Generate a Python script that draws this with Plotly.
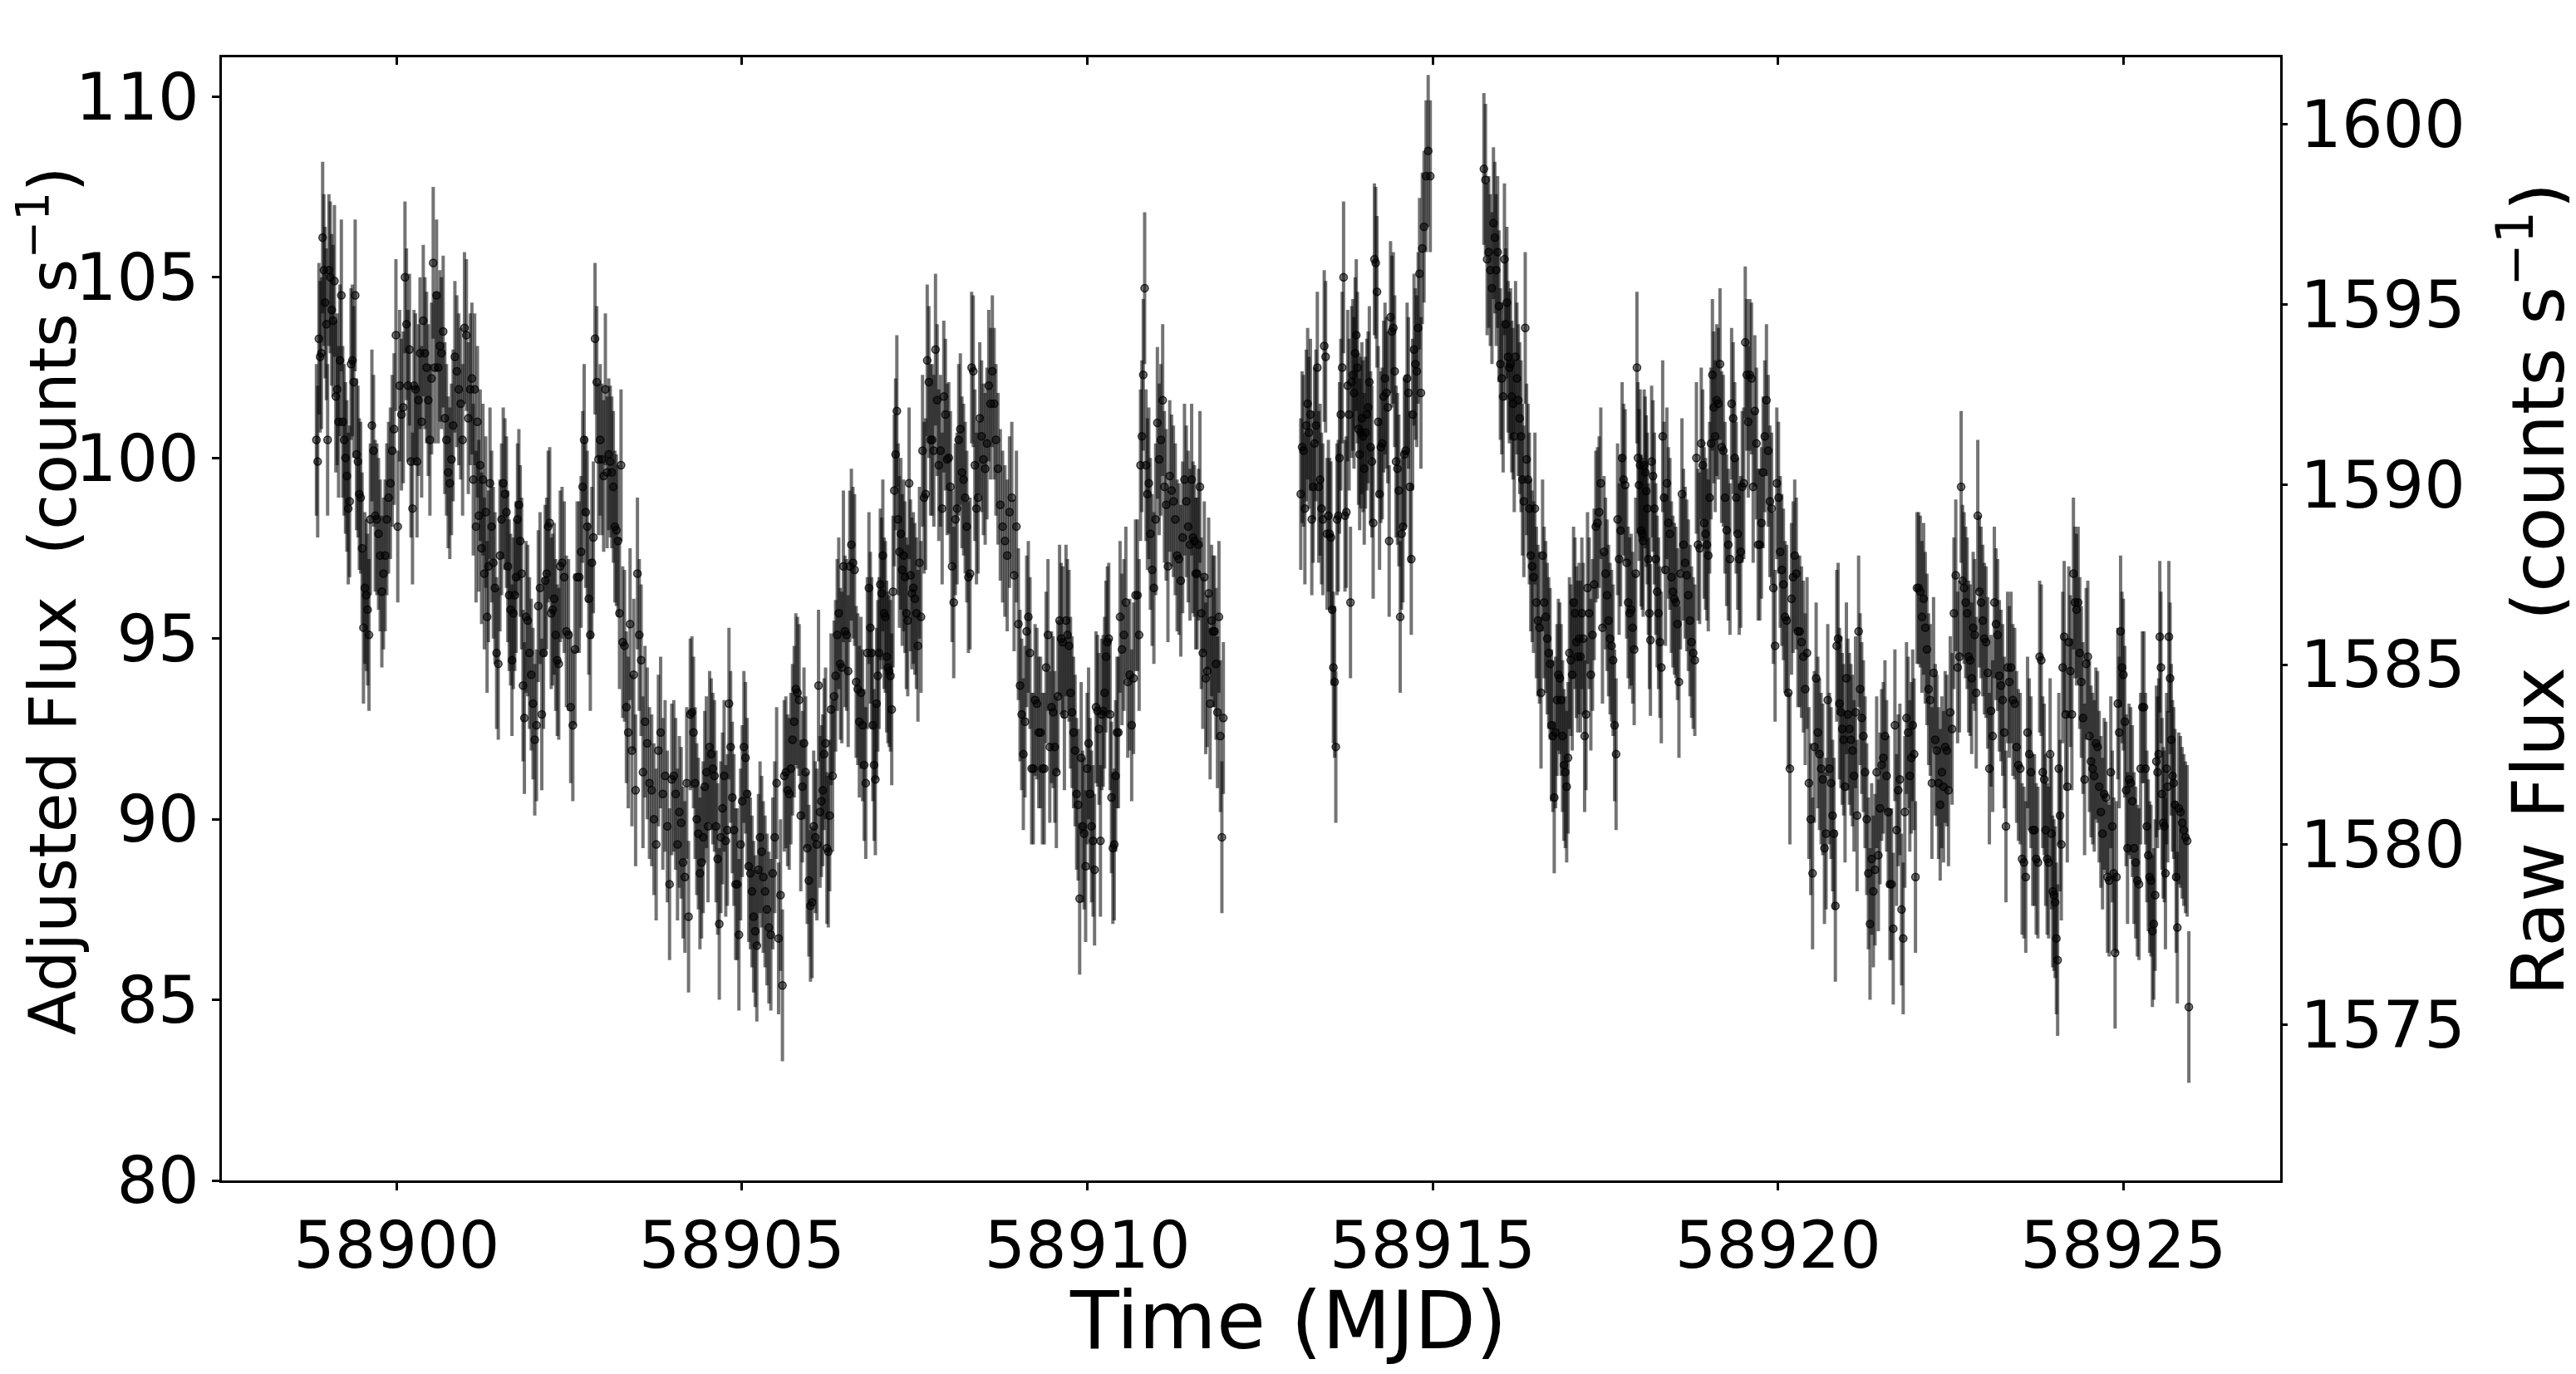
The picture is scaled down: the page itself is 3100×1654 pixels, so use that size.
import plotly.graph_objects as go

# ---------------- data ----------------
# Each row: flux values observed between ROW_T0[i] and ROW_T1[i] (MJD)
ROW_T0 = [
    58898.83, 58899.01, 58899.21, 58899.41, 58899.63, 58899.87, 58900.11, 58900.35, 58900.59, 58900.83,
    58901.08, 58901.20, 58901.34, 58901.58, 58901.86, 58902.14, 58902.38, 58902.66, 58902.86, 58903.06,
    58903.26, 58903.58, 58904.00, 58904.24, 58904.52, 58904.80, 58905.04, 58905.32, 58905.60, 58905.84,
    58906.12, 58906.30, 58906.48, 58906.85, 58907.03, 58907.27, 58907.47, 58907.67, 58907.91, 58908.15,
    58908.43, 58908.69, 58908.99, 58909.23, 58909.47, 58909.68, 58909.90, 58910.18, 58910.46, 58910.74,
    58910.90, 58911.18, 58911.50, 58911.64,
    58913.08, 58913.28, 58913.50, 58913.66, 58913.82, 58914.00, 58914.24, 58914.46, 58914.70, 58914.86,
    58915.73, 58915.87, 58916.03, 58916.19, 58916.35, 58916.49, 58916.67, 58916.83, 58917.03, 58917.23,
    58917.47, 58917.71, 58917.95, 58918.16, 58918.38, 58918.62, 58918.90, 58919.10, 58919.34, 58919.58,
    58919.82, 58920.02, 58920.30, 58920.54, 58920.78, 58921.00, 58921.20, 58921.44, 58921.68, 58921.92,
    58922.00, 58922.24, 58922.48, 58922.64, 58922.88, 58923.12, 58923.36, 58923.60, 58923.80, 58923.95,
    58924.11, 58924.31, 58924.59, 58924.83, 58925.07, 58925.31, 58925.47, 58925.65, 58925.79,
]
ROW_T1 = [
    58899.01, 58899.21, 58899.41, 58899.63, 58899.87, 58900.11, 58900.35, 58900.59, 58900.83, 58901.08,
    58901.20, 58901.34, 58901.58, 58901.86, 58902.14, 58902.38, 58902.66, 58902.86, 58903.06, 58903.26,
    58903.58, 58904.00, 58904.24, 58904.52, 58904.80, 58905.04, 58905.32, 58905.60, 58905.84, 58906.12,
    58906.30, 58906.48, 58906.85, 58907.03, 58907.27, 58907.47, 58907.67, 58907.91, 58908.15, 58908.43,
    58908.69, 58908.99, 58909.23, 58909.47, 58909.68, 58909.90, 58910.18, 58910.46, 58910.74, 58910.90,
    58911.18, 58911.50, 58911.64, 58911.98,
    58913.28, 58913.50, 58913.66, 58913.82, 58914.00, 58914.24, 58914.46, 58914.70, 58914.86, 58914.98,
    58915.87, 58916.03, 58916.19, 58916.35, 58916.49, 58916.67, 58916.83, 58917.03, 58917.23, 58917.47,
    58917.71, 58917.95, 58918.16, 58918.38, 58918.62, 58918.90, 58919.10, 58919.34, 58919.58, 58919.82,
    58920.02, 58920.30, 58920.54, 58920.78, 58921.00, 58921.20, 58921.44, 58921.68, 58921.92, 58922.00,
    58922.24, 58922.48, 58922.64, 58922.88, 58923.12, 58923.36, 58923.60, 58923.80, 58923.95, 58924.11,
    58924.31, 58924.59, 58924.83, 58925.07, 58925.31, 58925.47, 58925.65, 58925.79, 58925.96,
]
FLUX_ROWS = [
    # segment 1
    [100.5, 99.9, 103.3, 102.8, 102.9, 106.1, 105.2, 104.3, 103.7, 100.5],
    [105.2, 105.0, 104.1, 103.8, 104.9, 101.7, 101.9, 101.0, 102.7, 104.5],
    [101.0, 100.5, 100.0, 99.5, 98.6, 98.8, 102.6, 102.7, 102.1, 104.5],
    [100.1, 99.9, 99.0, 98.9, 97.5, 95.3, 96.4, 96.2, 95.8, 95.1, 98.3],
    [100.9, 100.2, 98.4, 98.3, 97.9, 97.3, 96.3, 96.8, 97.3, 98.3],
    [98.9, 99.3, 100.2, 100.8, 103.4, 98.1, 102.0, 101.2, 101.4],
    [105.0, 103.7, 102.0, 103.0, 99.9, 98.6, 102.0, 101.9, 99.9, 101.6, 102.9],
    [101.0, 103.8, 102.9, 102.5, 101.6, 100.5, 102.2, 105.4, 102.5, 104.5],
    [102.5, 103.1, 102.9, 103.5, 101.1, 100.5, 99.6, 99.3, 99.96, 100.9],
    [102.8, 102.4, 101.9, 101.5, 100.5, 103.6, 103.4, 101.1, 101.9],
    [102.2, 99.4, 101.9, 98.1, 101.0, 98.4],
    [99.8, 97.5, 99.4, 96.8, 98.5, 95.6, 97.0],
    [99.3, 98.1, 97.1, 96.4, 94.6, 94.3, 97.3, 98.3, 99.3, 99.0],
    [98.5, 97.0, 96.2, 95.8, 94.4, 95.7, 96.2, 96.7, 98.3, 98.7, 97.7, 96.8, 93.7, 92.8],
    [95.6, 95.5, 94.6, 94.0, 93.2, 92.2, 92.6, 95.9, 96.4, 92.9, 94.6],
    [96.6, 96.8, 98.1, 98.2, 95.7, 95.8, 96.1, 95.1, 94.4, 94.3, 97.0],
    [97.1, 96.7, 95.2, 95.1, 93.1, 92.6, 94.7, 96.7, 96.7],
    [97.4, 99.2, 100.5, 98.5, 98.1, 96.1, 95.1, 97.1, 97.8],
    [103.3, 102.1, 99.96, 100.5, 99.96, 99.5, 101.9, 99.6],
    [100.1, 99.9, 99.6, 99.2, 98.1, 98.0, 97.7, 95.7, 99.8],
    [94.9, 94.8, 93.1, 92.4, 95.4, 91.9, 94.0, 90.8, 96.8, 95.1, 94.4, 91.3],
    [92.7, 92.1, 91.0, 90.8, 90.0, 89.3, 91.9, 92.4, 90.7, 91.2, 89.8, 88.2, 91.1],
    [91.2, 90.7, 89.3, 90.2, 89.9, 88.8, 88.4, 91.0, 87.3],
    [92.9, 92.96, 92.4, 91.0, 90.0, 89.6, 88.5, 88.8, 89.5, 90.9, 91.3, 89.8],
    [92.0, 91.8, 91.4, 91.2, 89.8, 88.9, 87.1, 89.5, 90.3, 91.2, 89.4, 89.7],
    [93.2, 92.0, 90.6, 89.7, 88.2, 88.2, 86.8, 89.3, 90.5, 92.0],
    [91.7, 90.7, 88.7, 88.5, 88.0, 87.3, 86.9, 86.5, 88.6, 89.5, 89.1, 88.4],
    [88.0, 87.5, 87.0, 86.8, 88.5, 89.5, 91.0, 86.7, 87.9, 85.4],
    [91.2, 91.3, 90.8, 90.7, 91.4, 92.2, 92.7, 93.6, 93.5, 93.3],
    [90.1, 90.9, 92.1, 91.3, 89.2, 88.3, 87.6, 87.7, 89.8, 89.5, 89.3, 93.7],
    [90.2, 90.5, 90.8, 91.8, 92.1, 89.2, 89.1, 90.1, 93.04],
    [91.2, 93.4, 93.97, 95.1, 95.7, 94.3, 94.2, 97.0],
    [95.2, 95.1, 94.1, 97.0, 97.6, 97.1, 96.9, 93.8, 93.6, 92.7, 93.5, 92.6, 91.5, 91.0, 94.6, 96.4],
    [95.3, 94.6, 92.6, 91.5, 91.1, 93.2, 93.97, 94.6, 96.5, 96.25],
    [97.3, 95.7, 95.6, 94.5, 94.2, 94.1, 93.97, 93.04, 96.3, 99.1, 100.1, 101.3, 98.3],
    [97.4, 97.9, 96.9, 97.3, 96.7, 95.7, 95.5, 99.3, 96.75, 96.25],
    [96.4, 96.1, 95.7, 94.8, 97.1, 95.6, 100.2, 98.9, 99.0],
    [102.7, 102.1, 100.5, 100.5, 100.2, 103.0, 101.6, 99.8, 100.2, 98.6],
    [101.7, 101.2, 99.96, 100.0, 99.2, 97.0, 96.0, 98.3, 98.6, 100.5],
    [100.8, 99.6, 99.4, 98.9, 98.1, 96.7, 96.8, 102.5, 102.4, 99.8, 98.6, 98.9],
    [101.1, 100.6, 99.96, 99.7, 100.4, 102.0, 101.5, 102.4, 101.5, 100.5],
    [99.7, 98.7, 98.1, 97.7, 97.3, 98.5, 98.9, 96.75, 98.1],
    [95.4, 93.7, 92.9, 91.8, 92.7, 95.2, 95.6, 94.6, 91.4, 91.4],
    [93.3, 93.2, 92.4, 92.4, 91.4, 91.4, 94.2, 95.1, 92.0],
    [93.1, 92.96, 92.0, 91.3, 93.4, 95.5, 95.0, 94.9, 92.9],
    [95.5, 95.1, 94.8, 93.5, 92.96, 92.4, 91.9, 90.7, 90.4, 87.8],
    [91.7, 89.8, 89.6, 88.7, 91.4, 92.1, 90.7, 89.8, 89.4, 88.6, 93.1, 93.0, 92.5],
    [89.4, 92.9, 93.0, 93.5, 94.5, 94.9, 95.0, 92.9, 90.6, 89.2, 89.3, 91.2, 92.4, 92.4],
    [95.6, 94.7, 95.1, 96.0, 93.8, 94.0, 92.6, 93.9, 96.2, 96.2],
    [95.1, 99.8, 100.6, 102.3, 104.7, 99.8, 99.0, 99.3],
    [97.9, 96.9, 96.4, 98.3, 100.97, 99.96, 100.5, 101.6, 99.2, 98.7, 97.0],
    [99.5, 99.1, 98.8, 98.3, 97.3, 97.2, 96.6, 97.8, 99.4, 98.8, 98.1, 97.6],
    [99.4, 97.8, 97.7, 96.8, 96.8, 97.6, 99.2],
    [95.7, 94.6, 96.7, 93.9, 94.1, 96.25, 93.2, 95.5, 95.2, 95.2, 94.3, 92.96, 95.6, 92.3, 89.5, 92.8],
    # segment 2
    [99.0, 100.3, 100.2, 98.6, 100.9, 101.5, 100.7, 101.2, 98.3, 99.2],
    [100.4, 100.9, 102.5, 99.2, 99.4, 98.6, 98.3, 103.1, 102.8, 97.9, 98.4],
    [97.9, 97.8, 95.8, 94.2, 93.8, 92.0, 98.3, 98.4, 100.0],
    [101.2, 102.5, 105.0, 98.4, 98.5, 102.0, 101.2, 96.0],
    [102.1, 102.3, 101.8, 102.9, 103.4, 102.5, 100.8, 100.1, 100.7, 101.1, 100.6],
    [99.7, 100.7, 101.2, 101.4, 102.1, 100.3, 99.9, 98.2, 105.5, 105.4, 104.6, 101.0, 99.0],
    [100.3, 100.4, 101.7, 102.2, 101.8, 101.4, 97.7, 103.9, 103.5, 103.6, 102.4],
    [99.9, 99.7, 99.1, 95.6, 97.9, 98.1, 100.1, 100.2, 102.2, 101.8, 99.2, 97.2],
    [101.2, 103.0, 102.6, 102.4, 103.6, 105.1, 101.8, 105.8],
    [106.4, 107.8, 108.5, 107.8],
    # segment 3
    [108.0, 107.7, 105.5, 105.7, 105.2, 104.7],
    [106.5, 106.1, 105.2, 105.7, 104.2, 102.6, 102.2, 101.7],
    [105.5, 103.7, 104.3, 102.8, 102.5, 102.6, 101.7, 101.5, 100.6],
    [102.8, 102.2, 101.6, 101.1, 100.6, 99.4, 98.8, 103.6],
    [99.96, 99.4, 98.6, 97.3, 97.0, 96.7, 98.6],
    [96.0, 95.5, 95.3, 93.5, 97.3, 96.0, 95.6, 95.0],
    [94.6, 94.3, 92.6, 92.3, 90.6, 92.4, 93.3, 94.0],
    [93.9, 93.3, 92.3, 91.5, 91.3, 90.9, 91.7, 94.6, 94.4, 94.0],
    [96.0, 95.7, 94.9, 94.5, 95.0, 94.5, 95.7, 95.0, 92.3, 92.9],
    [96.4, 95.7, 94.0, 95.1, 96.5, 98.1, 98.2, 98.5, 99.3, 95.3],
    [97.4, 96.8, 96.2, 95.5, 95.0, 94.8, 94.4, 92.6, 91.8, 98.3, 97.2],
    [97.99, 100.0, 99.4, 99.25, 97.1, 96.0, 95.7, 95.8, 95.3, 94.7, 96.8],
    [102.5, 100.0, 99.25, 99.8, 97.99, 97.9, 97.7, 99.8, 99.6, 99.08, 98.6, 97.2, 95.7, 94.96],
    [99.9, 99.5, 98.6, 97.2, 96.3, 95.7, 94.9, 94.2, 100.6, 98.9, 96.9],
    [99.3, 98.2, 97.9, 96.7, 96.3, 96.1, 96.0, 95.4, 93.8, 96.8, 99.0],
    [97.6, 97.1, 96.75, 96.2, 95.5, 94.9, 94.6, 94.4, 100.0, 97.6, 97.5, 100.4],
    [99.8, 98.2, 97.9, 97.6, 97.3, 98.9, 100.4, 102.3, 101.4, 100.6],
    [101.6, 101.5, 102.6, 100.3, 100.2, 98.9, 98.0, 97.6, 97.2, 101.5],
    [101.1, 100.0, 98.9, 97.9, 97.2, 97.4, 99.2, 99.3, 103.2, 102.3, 101.0],
    [102.3, 102.2, 99.2, 101.3, 100.4, 97.6, 97.6, 98.2, 99.6, 100.6],
    [101.6, 100.2, 98.8, 98.6, 96.4, 94.8, 99.3, 98.9],
    [97.4, 96.9, 96.5, 95.6, 95.5, 93.5, 91.4, 96.1, 96.7, 97.3, 96.8, 95.2],
    [95.2, 94.9, 94.5, 93.6, 94.6, 91.0, 90.0, 88.5, 92.0],
    [93.9, 92.4, 91.8, 91.4, 91.1, 89.2, 89.6, 93.3, 91.4, 91.0],
    [90.1, 89.6, 87.6, 94.8, 95.0, 93.2, 92.96, 92.5, 92.2, 90.9, 93.9],
    [92.9, 92.5, 92.2, 91.9, 91.2, 92.96, 90.1, 95.2, 93.6],
    [92.8, 92.3, 91.3, 90.0, 88.5, 87.1, 88.9, 88.0, 88.6, 91.3],
    [89.0, 90.3, 91.5, 91.7, 92.3, 91.2, 90.2, 88.2, 88.2, 86.97],
    [92.6, 89.7, 90.8, 91.1, 87.5, 86.7, 90.2, 92.8, 92.4, 91.2],
    [91.7, 92.6, 91.8, 88.4],
    [96.4, 96.4, 96.3, 95.6, 96.1, 95.3, 94.7, 93.6, 93.3, 91.0],
    [94.05, 92.2, 91.9, 91.0, 90.4, 91.3, 90.9, 92.0, 91.9, 90.8],
    [92.96, 92.5, 95.7, 96.75, 94.2, 94.5],
    [99.2, 96.6, 96.4, 96.0, 95.7, 94.5, 94.4, 93.9, 95.3, 95.1, 93.5],
    [98.4, 96.3, 96.0, 95.5, 95.0, 94.9, 94.05, 91.4, 93.0, 92.3],
    [96.0, 95.4, 95.1, 93.97, 93.7, 93.3, 92.4, 89.8, 94.2, 93.8],
    [94.2, 93.3, 93.2, 92.0, 91.5, 91.4, 88.9, 88.8, 88.4],
    [92.4, 91.8, 91.3, 89.7, 89.7, 88.9, 88.8, 94.5],
    [94.4, 91.3, 91.1, 89.7, 88.9, 88.8, 91.8],
    [89.6, 88.0, 87.9, 87.7, 86.7, 86.1, 91.4, 90.1, 89.3],
    [94.2, 95.05, 92.9, 90.9, 94.9, 94.1, 92.9, 96.8, 96.0],
    [95.8, 96.0, 94.6, 93.8, 92.8, 91.1, 94.3, 94.5, 92.3, 91.6, 91.4, 91.2],
    [92.1, 92.0, 90.9, 90.2, 89.6, 90.7, 90.6, 88.4, 88.3, 91.3],
    [89.8, 88.5, 86.3, 88.4, 93.2, 92.4, 95.2, 94.2, 94.0, 92.7, 90.8, 89.2],
    [91.1, 91.0, 90.5, 89.2, 88.8, 88.3, 88.2, 91.4, 93.1, 93.1],
    [91.4, 89.8, 89.0, 88.4, 88.3, 86.9, 87.1, 87.9],
    [91.6, 91.3, 91.8, 95.05, 94.2, 90.7, 89.9, 89.8, 88.5, 91.4, 90.9],
    [95.05, 93.9, 92.2, 91.2, 91.0, 90.4, 88.4, 87.0],
    [90.3, 90.2, 89.9, 89.7, 89.5, 89.4, 84.8],
]
FLUX_ERR = 2.1  # counts/s, 1-sigma uncertainty of each point

X_TICKS = [58900, 58905, 58910, 58915, 58920, 58925]
Y_TICKS = [80, 85, 90, 95, 100, 105, 110]
Y2_TICKS = [1575, 1580, 1585, 1590, 1595, 1600]

X_TITLE = "Time (MJD)"
Y_TITLE = "Adjusted Flux  (counts s<sup>−1</sup>)"
Y2_TITLE = "Raw Flux  (counts s<sup>−1</sup>)"

# ---------------- assemble points ----------------
times, flux = [], []
for t0, t1, row in zip(ROW_T0, ROW_T1, FLUX_ROWS):
    n = len(row)
    step = (t1 - t0) / n
    for j, v in enumerate(row):
        times.append(t0 + (j + 0.5) * step)
        flux.append(v)

FONT = "DejaVu Sans"

fig = go.Figure()
fig.add_trace(go.Scatter(
    x=times, y=flux, mode="markers",
    marker=dict(size=9, color="rgba(0,0,0,0.5)", line=dict(width=1.5, color="rgba(0,0,0,0.75)")),
    error_y=dict(type="constant", value=FLUX_ERR, color="rgba(0,0,0,0.55)", thickness=4, width=0),
    showlegend=False, hoverinfo="x+y",
))
# empty traces so that the twin axes (raw-flux axis, top tick axis) are drawn
fig.add_trace(go.Scatter(x=[], y=[], yaxis="y2", showlegend=False, hoverinfo="skip"))
fig.add_trace(go.Scatter(x=[], y=[], xaxis="x2", showlegend=False, hoverinfo="skip"))

W, H = 3100, 1654
L, R, T, B = 259, 364, 61, 241
pw, ph = W - L - R, H - T - B

def px_x(p):
    return (p - L) / pw

def px_y(p):
    return (H - B - p) / ph

TICKFONT = dict(family=FONT, size=78, color="black")
axis_common = dict(
    showgrid=False, zeroline=False, showline=True, linecolor="black", linewidth=2.5,
    ticks="outside", ticklen=9, tickwidth=2.5, tickcolor="black", tickfont=TICKFONT,
)

XR = [58897.47, 58927.27]
fig.update_layout(
    width=W, height=H,
    margin=dict(l=L, r=R, t=T, b=B),
    paper_bgcolor="white", plot_bgcolor="white",
    xaxis=dict(range=XR, tickvals=X_TICKS, ticktext=[str(v) for v in X_TICKS],
               mirror=True, **axis_common),
    xaxis2=dict(range=XR, overlaying="x", side="top", anchor="y",
                tickvals=X_TICKS, showticklabels=False, showline=False, showgrid=False, zeroline=False,
                ticks="inside", ticklen=9, tickwidth=2.5, tickcolor="black"),
    yaxis=dict(range=[80, 111.09], tickvals=Y_TICKS, ticktext=[str(v) for v in Y_TICKS],
               mirror=True, **axis_common),
    yaxis2=dict(range=[1570.68, 1601.86], overlaying="y", side="right", anchor="x",
                tickvals=Y2_TICKS, ticktext=[str(v) for v in Y2_TICKS],
                **{**axis_common, "ticklen": 6}),
    annotations=[
        dict(text=X_TITLE, xref="paper", yref="paper", x=px_x(1542), y=px_y(1582),
             showarrow=False, xanchor="center", yanchor="middle",
             font=dict(family=FONT, size=96, color="black")),
        dict(text=Y_TITLE, xref="paper", yref="paper", x=px_x(50), y=px_y(716),
             showarrow=False, xanchor="center", yanchor="middle", textangle=-90,
             font=dict(family=FONT, size=78, color="black")),
        dict(text=Y2_TITLE, xref="paper", yref="paper", x=px_x(3040), y=px_y(702),
             showarrow=False, xanchor="center", yanchor="middle", textangle=-90,
             font=dict(family=FONT, size=88, color="black")),
    ],
)

fig.write_html("out.html")
